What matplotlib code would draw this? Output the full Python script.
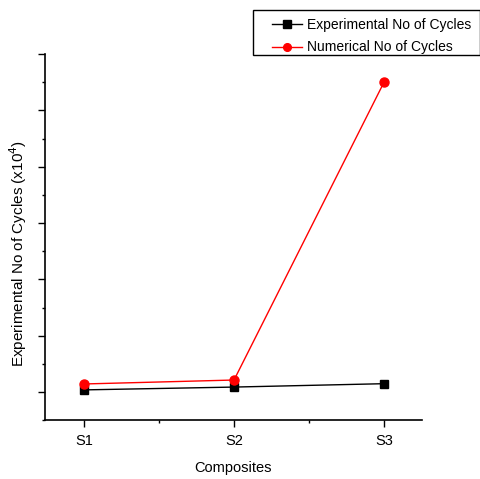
import matplotlib
matplotlib.use("Agg")
import matplotlib.pyplot as plt
from matplotlib.patches import Rectangle
from matplotlib.ticker import MultipleLocator

plt.rcParams['font.family'] = ['Liberation Sans', 'DejaVu Sans']

# donnees (x10^4 cycles)
composites = ['S1', 'S2', 'S3']
exp_cycles = [0.04, 0.09, 0.15]
num_cycles = [0.145, 0.215, 5.5]

x = [1, 2, 3]

fig = plt.figure(figsize=(4.81, 4.79), dpi=100)
ax = fig.add_axes([0.0936, 0.1225, 0.7828, 0.7648])

ax.plot(x, exp_cycles, color='black', lw=1.0, marker='s', ms=6,
        label='Experimental No of Cycles', zorder=3)
ax.plot(x, num_cycles, color='red', lw=1.0, marker='o', ms=6.5,
        label='Numerical No of Cycles', zorder=4)

ax.set_xlim(0.74, 3.25)
ax.set_ylim(-0.5, 6.0)
ax.set_xticks(x)
ax.set_xticklabels(composites, fontsize=10.5)
ax.xaxis.set_minor_locator(MultipleLocator(0.5))
ax.yaxis.set_major_locator(MultipleLocator(1))
ax.yaxis.set_minor_locator(MultipleLocator(0.5))
ax.tick_params(axis='y', which='both', labelleft=False)
ax.tick_params(which='major', length=5, width=1, direction='out')
ax.tick_params(which='minor', length=2.5, width=1, direction='out')
ax.tick_params(axis='x', pad=5)

for s in ['top', 'right']:
    ax.spines[s].set_visible(False)
for s in ['left', 'bottom']:
    ax.spines[s].set_linewidth(1.2)

ax.set_xlabel('Composites', fontsize=10.5, labelpad=9)
ax.set_ylabel('Experimental No of Cycles (x10$^4$)', fontsize=11)
ax.yaxis.set_label_coords(-0.042, 0.456)

# legende en haut a droite, cadre dessine a part
leg = fig.legend(loc='upper left', bbox_to_anchor=(0.545, 0.983),
                 frameon=False, fontsize=10, handlelength=2.2,
                 handletextpad=0.3, labelspacing=0.62, borderpad=0.2,
                 markerscale=0.85)
fig.patches.append(Rectangle((253 / 481, 1 - 55 / 479), 227 / 481, 45 / 479,
                             transform=fig.transFigure, fill=False,
                             edgecolor='black', lw=1.0))

fig.savefig('out.png', dpi=100)
